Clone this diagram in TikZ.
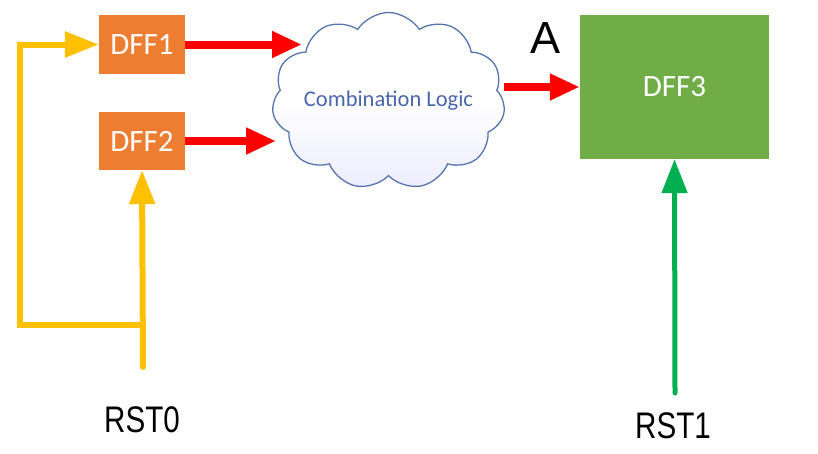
\documentclass[tikz,border=0pt]{standalone}
\usepackage{fontspec}
\setmainfont{Carlito}
\newfontfamily\labelfont{Liberation Sans}
\newfontfamily\rstfont[FakeStretch=0.8]{Liberation Sans}
\usetikzlibrary{shapes, shapes.symbols, arrows.meta, positioning, calc}
\definecolor{fforange}{HTML}{ED7D31}
\definecolor{ffgreen}{HTML}{70AD47}
\definecolor{rstgreen}{HTML}{00B050}
\definecolor{rstyellow}{HTML}{FFC000}
\definecolor{cloudline}{HTML}{5674AE}
\definecolor{cloudtext}{HTML}{4A66AC}
\tikzset{
  ffbox/.style={rectangle, draw=none, text=white, inner sep=0, font=\fontsize{31}{32}\selectfont},
  cloudbox/.style={cloud, cloud puffs=11, cloud puff arc=115, aspect=1.3, draw=cloudline, line width=1.3pt,
    top color=white, bottom color=blue!7, middle color=white, minimum width=233pt, minimum height=177pt, inner sep=0},
  cloudlabel/.style={text=cloudtext, inner sep=0, font=\fontsize{22.5}{23}\selectfont},
  redarrow/.style={-{Triangle[length=30pt,width=25pt]}, red, line width=8pt},
  rstarrow/.style={-{Triangle[length=34pt,width=25pt]}, line width=6pt},
  rstlabel/.style={rectangle, draw=none, font=\rstfont\fontsize{37}{38}\selectfont}
}

\begin{document}
\begin{tikzpicture}[x=1pt, y=-1pt]
  \useasboundingbox (0,0) rectangle (818,453);
  % Nodes
  \node[ffbox, fill=fforange, minimum width=86pt, minimum height=59pt] (dff1) at (142,44.5) {DFF1};
  \node[ffbox, fill=fforange, minimum width=86pt, minimum height=58pt] (dff2) at (142,141) {DFF2};
  \node[cloudbox] (logic) at (388.5,101) {};
  \node[cloudlabel] (logictext) at (logic.center) {Combination Logic};
  \node[ffbox, fill=ffgreen, minimum width=189pt, minimum height=144pt] (dff3) at (674.5,87) {DFF3};
  \node[font=\labelfont\fontsize{45}{46}\selectfont, inner sep=0] (lblA) at (545,38) {A};
  \node[rstlabel] (rst0) at (142,420) {RST0};
  \node[rstlabel] (rst1) at (673,426) {RST1};

  % Wire ends
  \coordinate (logicin) at (302,44.5);
  \coordinate (rst0end) at (143,367);
  \coordinate (split) at (143,325);
  \coordinate (corner) at (20,325);
  \coordinate (rst1end) at (675,393);

  % Arrows
  \draw[redarrow] (dff1.east) -- (logicin);
  \draw[redarrow] (dff2.east) -- ([xshift=3pt]dff2.east -| logic.west);
  \draw[redarrow] (dff3.west -| logic.east) -- (dff3.west);
  \draw[rstarrow, rstyellow, line cap=round] (rst0end) -- (dff2.south);
  \draw[rstarrow, rstyellow, line cap=round] (split) -- (corner) |- (dff1.west);
  \draw[rstarrow, rstgreen, line width=5pt, line cap=round] (rst1end) -- (dff3.south);
\end{tikzpicture}
\end{document}
